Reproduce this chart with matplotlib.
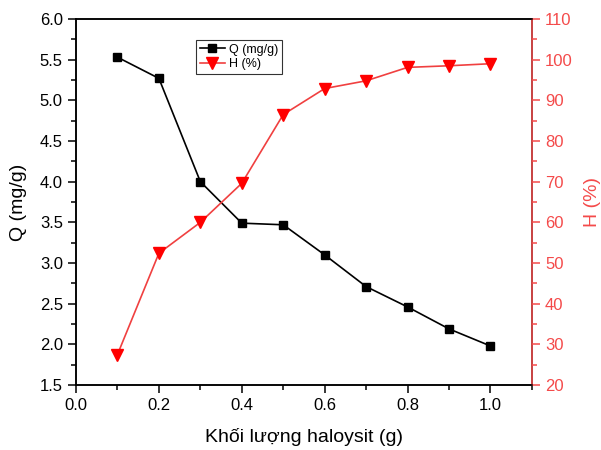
import matplotlib
matplotlib.use("Agg")
import matplotlib.pyplot as plt
from matplotlib.ticker import MultipleLocator

plt.rcParams["font.family"] = ["Liberation Sans", "DejaVu Sans"]

mass = [0.1, 0.2, 0.3, 0.4, 0.5, 0.6, 0.7, 0.8, 0.9, 1.0]
q_vals = [5.53, 5.27, 4.00, 3.49, 3.47, 3.10, 2.71, 2.46, 2.19, 1.98]
h_vals = [27.5, 52.4, 60.0, 69.6, 86.5, 92.9, 94.8, 98.1, 98.5, 99.0]

red = "#ff0000"
axis_red = "#f44a4a"

fig = plt.figure(figsize=(6.01, 4.5), dpi=100)
ax = fig.add_axes([0.1265, 0.1444, 0.7585, 0.8134])
ax2 = ax.twinx()

l1, = ax.plot(mass, q_vals, color="black", lw=1.2, marker="s", ms=6,
              label="Q (mg/g)")
l2, = ax2.plot(mass, h_vals, color="#f04040", lw=1.2, marker="v", ms=8,
               mfc=red, mec=red, label="H (%)")

ax.set_xlim(0, 1.1)
ax.set_ylim(1.5, 6.0)
ax2.set_ylim(20, 110)

ax.xaxis.set_major_locator(MultipleLocator(0.2))
ax.xaxis.set_minor_locator(MultipleLocator(0.1))
ax.yaxis.set_major_locator(MultipleLocator(0.5))
ax.yaxis.set_minor_locator(MultipleLocator(0.25))
ax2.yaxis.set_major_locator(MultipleLocator(10))
ax2.yaxis.set_minor_locator(MultipleLocator(5))

for sp in ax.spines.values():
    sp.set_linewidth(1.1)
for sp in ax2.spines.values():
    sp.set_linewidth(1.1)

ax.tick_params(axis="both", which="major", direction="out", length=6,
               width=1.1, labelsize=12)
ax.tick_params(axis="both", which="minor", direction="out", length=3.5,
               width=1.1)
ax2.tick_params(axis="y", which="major", direction="out", length=6,
                width=1.1, labelsize=12, colors=axis_red)
ax2.tick_params(axis="y", which="minor", direction="out", length=3.5,
                width=1.1, colors=axis_red)
ax2.spines["right"].set_color(axis_red)

ax.set_xlabel("Khối lượng haloysit (g)", fontsize=14, labelpad=11)
ax.set_ylabel("Q (mg/g)", fontsize=14, labelpad=9)
ax2.set_ylabel("H (%)", fontsize=14, color=axis_red, labelpad=8)

leg = ax.legend(handles=[l1, l2], loc="upper left",
                bbox_to_anchor=(0.25, 0.96), fontsize=9, frameon=True,
                fancybox=False, edgecolor="black", borderpad=0.3,
                handlelength=2.0, handletextpad=0.3, labelspacing=0.2)
leg.get_frame().set_linewidth(0.8)

fig.savefig("out.png", dpi=100)
